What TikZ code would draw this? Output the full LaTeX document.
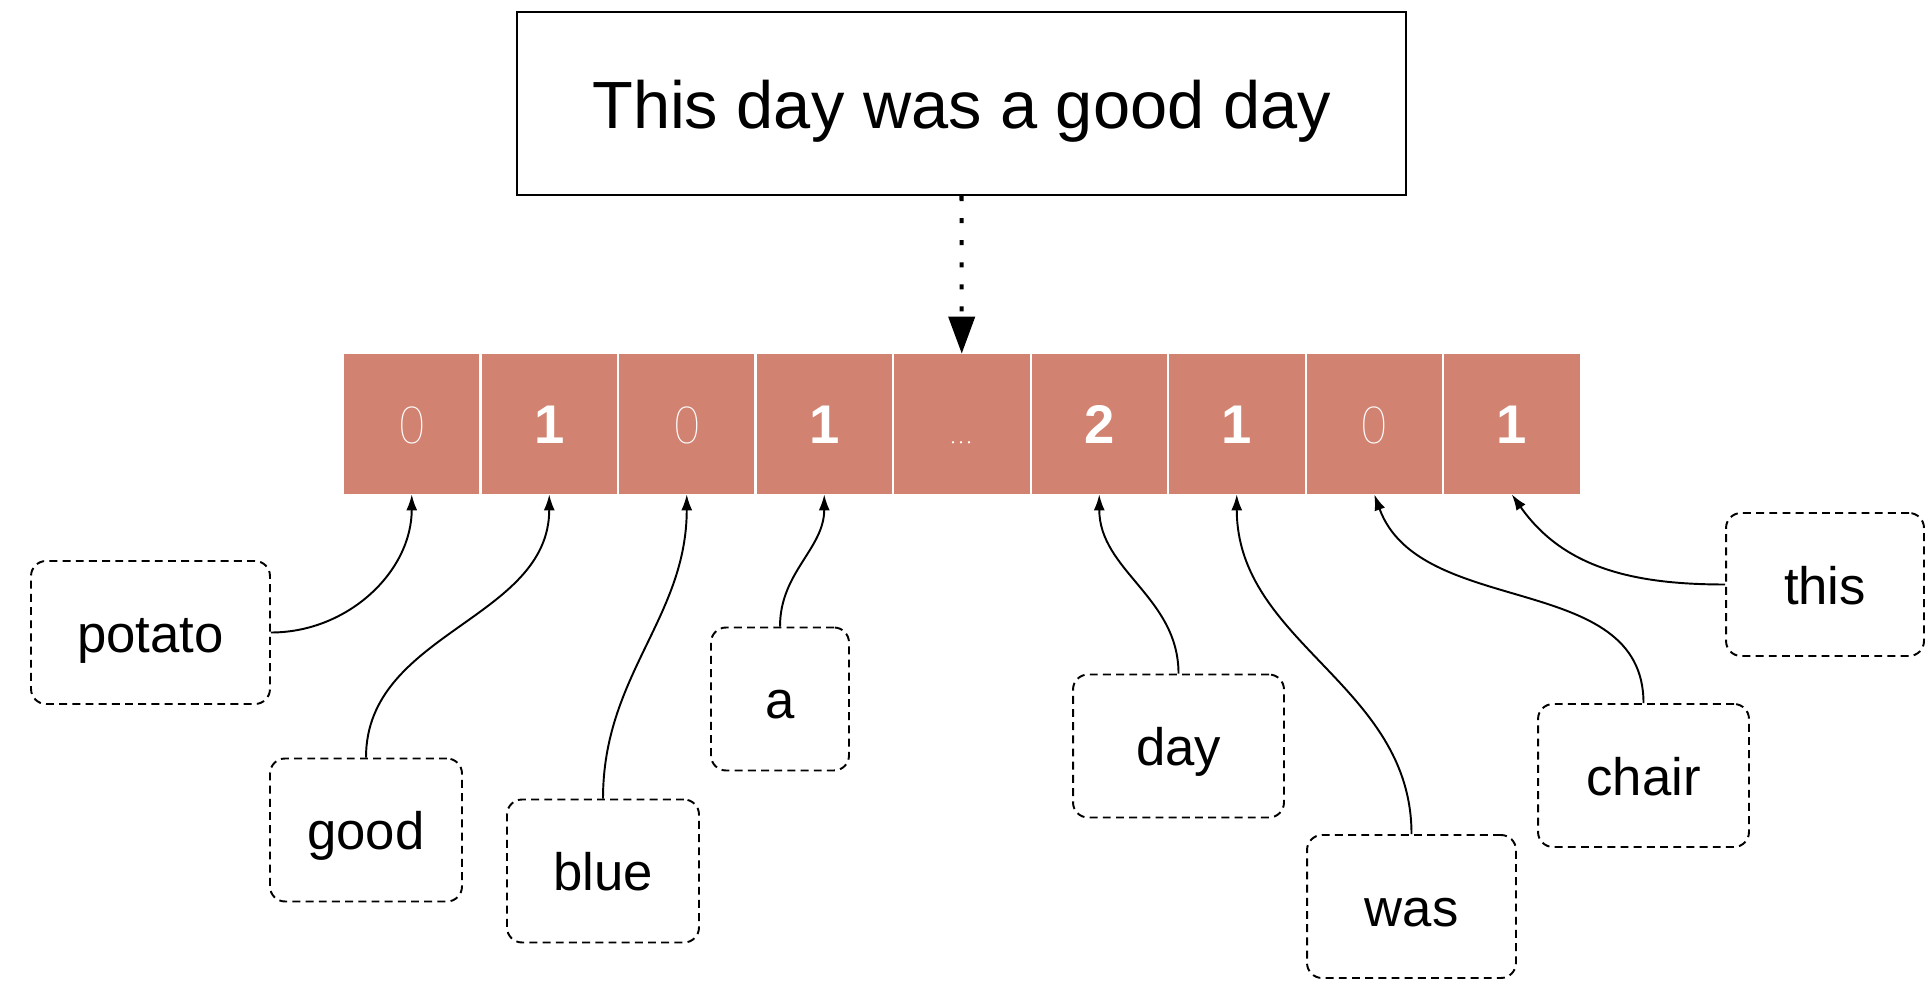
\documentclass[tikz,border=0pt]{standalone}
\usepackage{fontspec}
\setmainfont{Liberation Sans}
\newfontfamily\thinfont{Fira Sans Thin}
\usetikzlibrary{arrows.meta}
\definecolor{cellred}{RGB}{210,130,113}
\begin{document}
\begin{tikzpicture}[x=0.02cm,y=0.02cm,
  cell/.style={rectangle,fill=cellred,minimum width=2.71cm,minimum height=2.8cm,inner sep=0pt,text=white,text height=0.79cm,text depth=0pt},
  thinval/.style={font=\thinfont\fontsize{31}{36}\selectfont},
  boldval/.style={font=\bfseries\fontsize{31}{36}\selectfont},
  word/.style={rectangle,draw,dash pattern=on 4.5pt off 3pt,line width=1.1pt,rounded corners=0.3cm,minimum height=2.86cm,inner sep=0pt,text height=1cm,text depth=0.2cm,font=\fontsize{30}{36}\selectfont},
  link/.style={-{Latex[width=0.22cm,length=0.32cm]},line width=1.1pt},
]
\useasboundingbox[fill=white] (0,0) rectangle (1926,981);

\node[draw,line width=1.3pt,minimum width=17.78cm,minimum height=3.66cm,inner sep=0pt,text height=1.3cm,text depth=0.3cm,font=\fontsize{38}{44}\selectfont] (sent) at (961.5,877.5) {This day was a good day};

\node[cell,thinval] (c0) at (411.75,557) {0};
\node[cell,boldval] (c1) at (549.25,557) {1};
\node[cell,thinval] (c2) at (686.75,557) {0};
\node[cell,boldval] (c3) at (824.25,557) {1};
\node[cell,font=\thinfont\fontsize{28}{32}\selectfont] (c4) at (961.75,557) {...};
\node[cell,boldval] (c5) at (1099.25,557) {2};
\node[cell,boldval] (c6) at (1236.75,557) {1};
\node[cell,thinval] (c7) at (1374.25,557) {0};
\node[cell,boldval] (c8) at (1511.75,557) {1};

\draw[line width=2.3pt,dash pattern=on 2.85pt off 9.7pt,-{Triangle[width=0.52cm,length=0.74cm]}] (sent.south) -- (c4.north);

\node[word,minimum width=4.78cm] (potato) at (150.5,348.5) {potato};
\node[word,minimum width=3.84cm] (good) at (366,151) {good};
\node[word,minimum width=3.84cm] (blue) at (603,110) {blue};
\node[word,minimum width=2.76cm] (a) at (780,282) {a};
\node[word,minimum width=4.22cm] (day) at (1178.5,235) {day};
\node[word,minimum width=4.18cm] (was) at (1411.5,74.5) {was};
\node[word,minimum width=4.22cm] (chair) at (1643.5,205.5) {chair};
\node[word,minimum width=3.96cm] (this) at (1825,396.5) {this};

\draw[link] (potato.east) to[out=0,in=-90] (c0.south);
\draw[link] (good.north) to[out=90,in=-90] (c1.south);
\draw[link] (blue.north) to[out=90,in=-90] (c2.south);
\draw[link] (a.north) to[out=90,in=-90] (c3.south);
\draw[link] (day.north) to[out=90,in=-90] (c5.south);
\draw[link] (was.north) to[out=90,in=-90] (c6.south);
\draw[link] (chair.north) to[out=90,in=-70] (c7.south);
\draw[link] (this.west) to[out=180,in=-55] (c8.south);
\end{tikzpicture}
\end{document}
